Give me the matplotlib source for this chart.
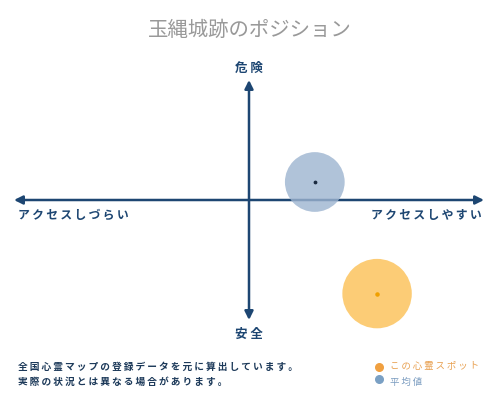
import matplotlib
matplotlib.use("Agg")
import matplotlib.pyplot as plt

plt.rcParams['font.family'] = ['Noto Sans CJK JP', 'DejaVu Sans']

title = "玉縄城跡のポジション"
axis_labels = {"top": "危 険", "bottom": "安 全",
               "left": "アクセスしづらい", "right": "アクセスしやすい"}
notes = ["全国心霊マップの登録データを元に算出しています。",
         "実際の状況とは異なる場合があります。"]
series_names = ["この心霊スポット", "平均値"]

# position on access (x) / danger (y) scale, -1..1
spot_x = [0.545]
spot_y = [-0.78]
avg_x = [0.28]
avg_y = [0.15]

navy = "#1d4672"
orange = "#fcc45e"
blue = "#9db4d0"


def spaced(s):
    # a little letter spacing, like the reference
    return "\u2009".join(s)


fig = plt.figure(figsize=(5, 4), dpi=100)
ax = fig.add_axes([0, 0, 1, 1])
ax.set_xlim(-249 / 235, 251 / 235)
ax.set_ylim(-200 / 120, 200 / 120)
ax.axis("off")

# axes arrows
arrow = dict(arrowstyle="-|>,head_length=0.5,head_width=0.25", color=navy, lw=1.8,
             shrinkA=0, shrinkB=0)
ax.annotate("", xy=(1, 0), xytext=(0, 0), arrowprops=arrow)
ax.annotate("", xy=(-1, 0), xytext=(0, 0), arrowprops=arrow)
ax.annotate("", xy=(0, 1), xytext=(0, 0), arrowprops=arrow)
ax.annotate("", xy=(0, -1), xytext=(0, 0), arrowprops=arrow)

# bubbles
ax.scatter(avg_x, avg_y, s=1850, color=blue, alpha=0.8, edgecolors="none", zorder=3)
ax.scatter(avg_x, avg_y, s=3, color="#1a2a40", zorder=4)
ax.scatter(spot_x, spot_y, s=2500, color=orange, alpha=0.85, edgecolors="none", zorder=3)
ax.scatter(spot_x, spot_y, s=5, color="#f0a000", zorder=4)

lab = dict(color=navy, fontweight="bold")
ax.text(0, 1.1, axis_labels["top"], ha="center", va="center", fontsize=9, **lab)
ax.text(0, -1.12, axis_labels["bottom"], ha="center", va="center", fontsize=9, **lab)
ax.text(-0.985, -0.13, spaced(axis_labels["left"]), ha="left", va="center",
        fontsize=8.5, **lab)
ax.text(0.99, -0.13, spaced(axis_labels["right"]), ha="right", va="center",
        fontsize=8.5, **lab)

fig.text(0.5, 0.925, title, ha="center", va="center", fontsize=14.7, color="#999999")

for i, note in enumerate(notes):
    fig.text(0.036, 0.083 - i * 0.038, spaced(note), ha="left", va="center",
             fontsize=7.0, color="#1d3a5a", fontweight="bold")

# legend
ax.scatter([0.555], [-1.39], s=30, color="#f0a040", zorder=5)
ax.scatter([0.555], [-1.49], s=30, color="#7aa0c4", zorder=5)
fig.text(0.78, 0.083, spaced(series_names[0]), ha="left", va="center", fontsize=6.8,
         color="#e8a050")
fig.text(0.78, 0.045, spaced(series_names[1]), ha="left", va="center", fontsize=6.8,
         color="#7a9cc0")

fig.savefig("out.png", dpi=100)
